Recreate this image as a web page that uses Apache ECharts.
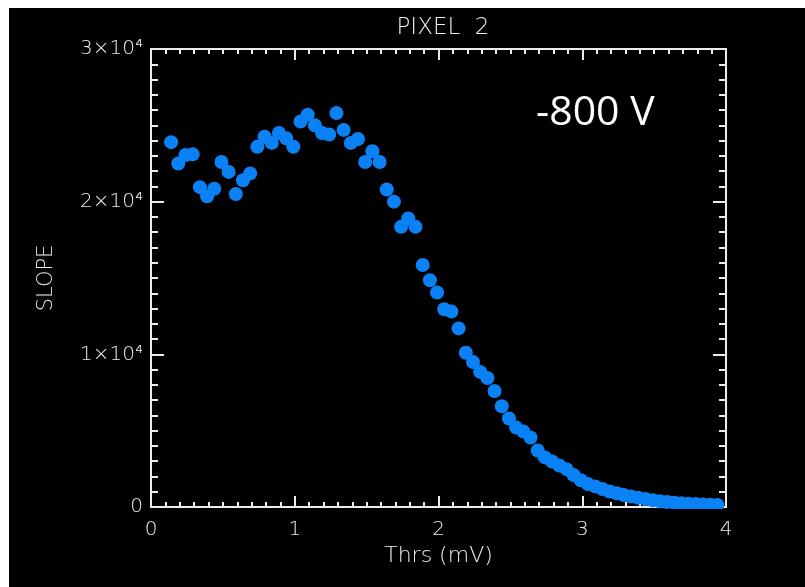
<!DOCTYPE html>
<html>
<head>
<meta charset="utf-8">
<title>PIXEL 2</title>
<script src="https://cdn.jsdelivr.net/npm/echarts@6/dist/echarts.min.js"></script>
<style>
	html,body{margin:0;padding:0;background:#fff;}
	#chart{width:805px;height:587px;}
</style>
</head>
<body>
<div id="chart"></div>
<script>
	// threshold (mV)
	var thrs = [
		0.14, 0.19, 0.24, 0.29, 0.34, 0.39, 0.44, 0.49, 0.54, 0.59,
		0.64, 0.69, 0.74, 0.79, 0.84, 0.89, 0.94, 0.99, 1.04, 1.09,
		1.14, 1.19, 1.24, 1.29, 1.34, 1.39, 1.44, 1.49, 1.54, 1.59,
		1.64, 1.69, 1.74, 1.79, 1.84, 1.89, 1.94, 1.99, 2.04, 2.09,
		2.14, 2.19, 2.24, 2.29, 2.34, 2.39, 2.44, 2.49, 2.54, 2.59,
		2.64, 2.69, 2.74, 2.79, 2.84, 2.89, 2.94, 2.99, 3.04, 3.09,
		3.14, 3.19, 3.24, 3.29, 3.34, 3.39, 3.44, 3.49, 3.54, 3.59,
		3.64, 3.69, 3.74, 3.79, 3.84, 3.89, 3.94
	];
	// slope
	var slope = [
		23900, 22500, 23050, 23100, 20950, 20350, 20850, 22600, 21950, 20500,
		21400, 21850, 23600, 24250, 23850, 24500, 24150, 23600, 25250, 25700,
		25000, 24500, 24400, 25800, 24700, 23850, 24100, 22600, 23300, 22600,
		20800, 20000, 18350, 18900, 18350, 15850, 14850, 14050, 12950, 12800,
		11700, 10100, 9500, 8850, 8450, 7600, 6600, 5800, 5200, 4950,
		4550, 3700, 3250, 2980, 2720, 2480, 2100, 1750, 1500, 1350,
		1180, 1020, 900, 790, 680, 600, 520, 440, 380, 330,
		280, 240, 210, 190, 170, 150, 130
	];
	var xTicks = ['0', '1', '2', '3', '4'];
	var yTicks = ['0', '1×10⁴', '2×10⁴', '3×10⁴'];

	var points = [];
	for (var i = 0; i < thrs.length; i++) {
		points.push([thrs[i], slope[i]]);
	}

	var axisCol = '#ececec';
	var font = 'DejaVu Sans';

	// shared look of the four frame axes (ticks point into the plot)
	function frameAxis(extra, tickLen, minorLen) {
		var a = {
			type: 'value',
			axisLine: {show: true, onZero: false, lineStyle: {color: axisCol, width: 2}},
			axisTick: {show: true, inside: true, length: tickLen, lineStyle: {color: axisCol, width: 2}},
			minorTick: {show: true, splitNumber: 10, length: minorLen, lineStyle: {color: axisCol, width: 2}},
			axisLabel: {show: false},
			splitLine: {show: false}
		};
		for (var k in extra) a[k] = extra[k];
		return a;
	}

	var chart = echarts.init(document.getElementById('chart'));
	chart.setOption({
		backgroundColor: '#fff',
		animation: false,
		title: [
			{
				text: 'PIXEL  2',
				left: 438, top: 12, textAlign: 'center',
				textStyle: {color: axisCol, fontFamily: font, fontWeight: 'lighter', fontSize: 23}
			},
			{
				text: '-800 V',
				left: 531, top: 88,
				textStyle: {color: '#fff', fontFamily: 'Open Sans', fontWeight: 'normal', fontSize: 41}
			}
		],
		graphic: [
			// black panel (white strip stays at the top and left)
			{type: 'rect', z: -10, shape: {x: 9, y: 8, width: 800, height: 590}, style: {fill: '#000'}},
			// hide dot parts that hang below the x axis
			{type: 'rect', z: 100, shape: {x: 146, y: 509, width: 585, height: 9}, style: {fill: '#000'}}
		],
		grid: {left: 151, right: 79, top: 49, bottom: 80},
		xAxis: [
			frameAxis({
				min: 0, max: 4, interval: 1, position: 'bottom',
				name: 'Thrs (mV)', nameLocation: 'middle', nameGap: 37,
				nameTextStyle: {color: axisCol, fontFamily: font, fontWeight: 'lighter', fontSize: 22},
				axisLabel: {
					show: true, margin: 13, color: axisCol, fontFamily: font, fontWeight: 'lighter', fontSize: 20,
					formatter: function (v) { return xTicks[Math.round(v)]; }
				}
			}, 11, 5),
			frameAxis({min: 0, max: 4, interval: 1, position: 'top'}, 11, 5)
		],
		yAxis: [
			frameAxis({
				min: 0, max: 30000, interval: 10000, position: 'left',
				name: 'SLOPE', nameLocation: 'middle', nameGap: 94, nameRotate: 90,
				nameTextStyle: {color: axisCol, fontFamily: font, fontWeight: 'lighter', fontSize: 21},
				axisLabel: {
					show: true, margin: 8, color: axisCol, fontFamily: font, fontWeight: 'lighter', fontSize: 20,
					formatter: function (v) { return yTicks[Math.round(v / 10000)]; }
				}
			}, 13, 7),
			frameAxis({min: 0, max: 30000, interval: 10000, position: 'right'}, 13, 7)
		],
		series: [{
			type: 'scatter',
			symbol: 'circle',
			symbolSize: 14,
			itemStyle: {color: '#0a82f5', opacity: 1},
			data: points
		}]
	});
</script>
</body>
</html>
